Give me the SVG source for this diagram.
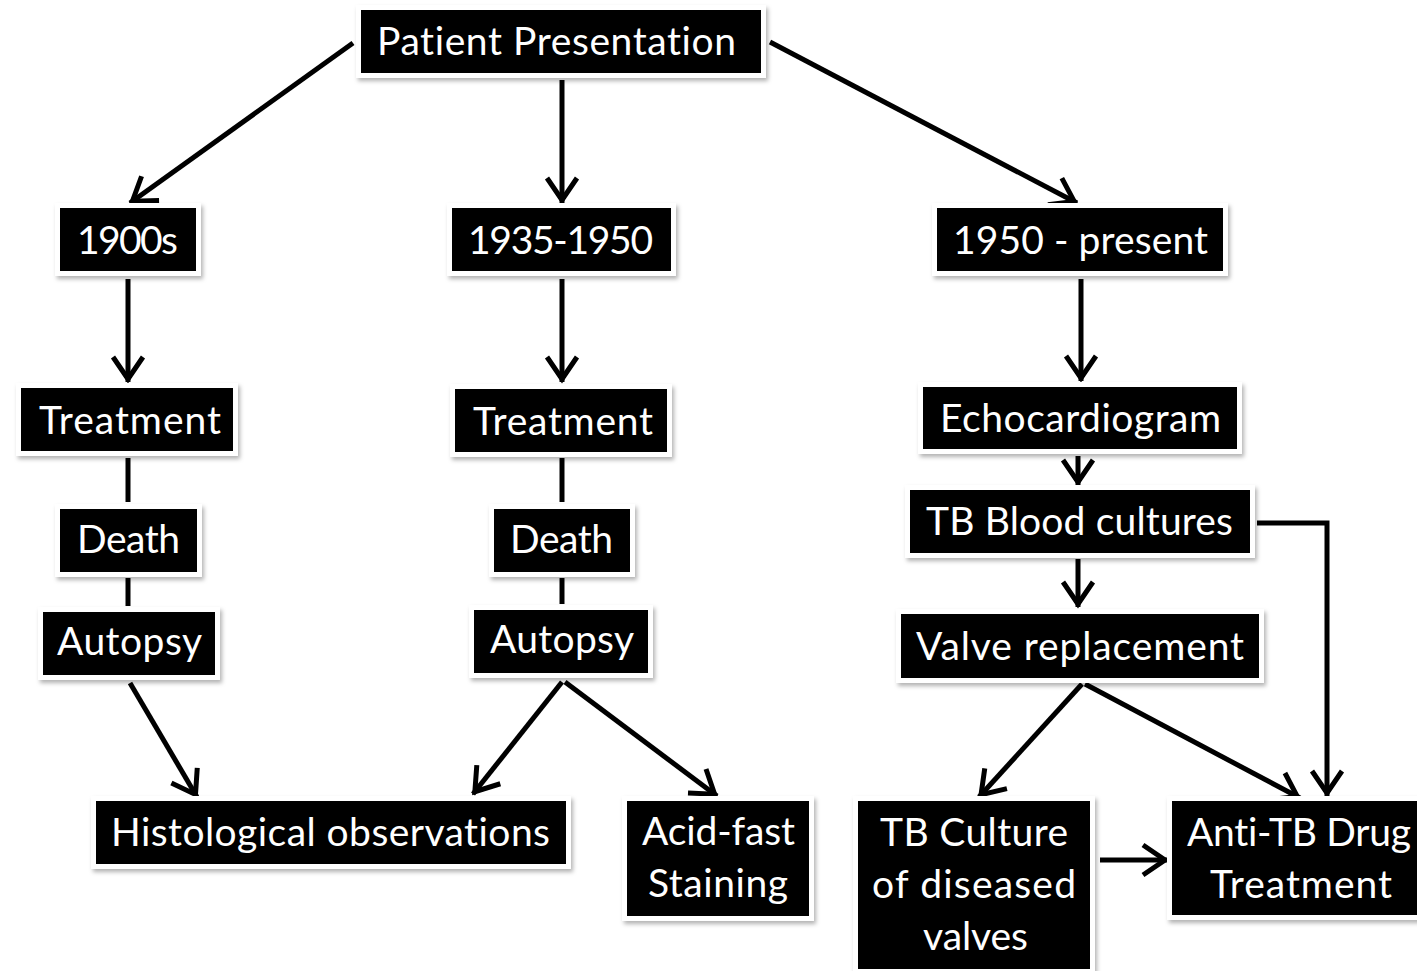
<svg xmlns="http://www.w3.org/2000/svg" width="1417" height="971" viewBox="0 0 1417 971">
<defs>
<filter id="sh" x="-10%" y="-20%" width="130%" height="160%">
<feDropShadow dx="2" dy="3" stdDeviation="2" flood-color="#000" flood-opacity="0.3"/>
</filter>
<marker id="ah" markerUnits="userSpaceOnUse" orient="auto" markerWidth="40" markerHeight="40" refX="0" refY="0" viewBox="-30 -20 40 40" overflow="visible">
<path d="M-25,-15 L-3,0 L-25,15" fill="none" stroke="#000" stroke-width="5" stroke-linejoin="miter"/>
</marker>
</defs>
<style>
.bg{fill:#fff;filter:url(#sh)}
.bx{fill:#000}
.t{fill:#fff;font-family:Lato,"Liberation Sans",sans-serif;font-size:39px;text-anchor:middle;font-variant-ligatures:none}
.c{fill:none;stroke:#000;stroke-width:5}
.a{marker-end:url(#ah)}
</style>
<rect width="1417" height="971" fill="#fff"/>
<g id="connectors">
<line class="c a" x1="353" y1="43" x2="130" y2="203"/>
<line class="c a" x1="562" y1="80" x2="562" y2="203"/>
<line class="c a" x1="770" y1="42" x2="1077" y2="203"/>
<line class="c a" x1="128" y1="279" x2="128" y2="382"/>
<line class="c a" x1="562" y1="279" x2="562" y2="382"/>
<line class="c a" x1="1081" y1="279" x2="1081" y2="381"/>
<line class="c" x1="128" y1="458" x2="128" y2="502"/>
<line class="c" x1="128" y1="578" x2="128" y2="606"/>
<line class="c" x1="562" y1="458" x2="562" y2="502"/>
<line class="c" x1="562" y1="578" x2="562" y2="604"/>
<line class="c a" x1="130" y1="683" x2="197" y2="797"/>
<line class="c a" x1="562" y1="682" x2="473" y2="794"/>
<line class="c a" x1="565" y1="682" x2="717" y2="796"/>
<line class="c a" x1="1078" y1="456" x2="1078" y2="485"/>
<line class="c a" x1="1078" y1="559" x2="1078" y2="607"/>
<polyline class="c a" points="1257,523 1327,523 1327,796"/>
<line class="c a" x1="1082" y1="684" x2="979" y2="797"/>
<line class="c a" x1="1085" y1="684" x2="1300" y2="798"/>
<line class="c a" x1="1100" y1="860" x2="1168" y2="860"/>
</g>
<g id="n-patient"><rect class="bg" x="356" y="5" width="410" height="73"/><rect class="bx" x="361" y="10" width="400" height="63"/><text class="t" x="556.5" y="55" textLength="359">Patient Presentation</text></g>
<g id="n-1900s"><rect class="bg" x="55" y="203" width="146" height="73"/><rect class="bx" x="60" y="208" width="136" height="63"/><text class="t" x="127.5" y="254" textLength="101">1900s</text></g>
<g id="n-1935"><rect class="bg" x="447" y="203" width="229" height="73"/><rect class="bx" x="452" y="208" width="219" height="63"/><text class="t" x="560.5" y="254" textLength="185">1935-1950</text></g>
<g id="n-1950"><rect class="bg" x="932" y="203" width="296" height="73"/><rect class="bx" x="937" y="208" width="286" height="63"/><text class="t" x="1080.5" y="254" textLength="255">1950 - present</text></g>
<g id="n-treat1"><rect class="bg" x="16" y="383" width="222" height="73"/><rect class="bx" x="21" y="388" width="212" height="63"/><text class="t" x="130" y="434" textLength="182">Treatment</text></g>
<g id="n-treat2"><rect class="bg" x="450" y="384" width="222" height="73"/><rect class="bx" x="455" y="389" width="212" height="63"/><text class="t" x="563" y="435" textLength="180">Treatment</text></g>
<g id="n-echo"><rect class="bg" x="918" y="382" width="324" height="72"/><rect class="bx" x="923" y="387" width="314" height="62"/><text class="t" x="1080.5" y="432" textLength="281">Echocardiogram</text></g>
<g id="n-death1"><rect class="bg" x="55" y="504" width="147" height="73"/><rect class="bx" x="60" y="509" width="137" height="63"/><text class="t" x="128.5" y="553" textLength="103">Death</text></g>
<g id="n-death2"><rect class="bg" x="489" y="504" width="146" height="73"/><rect class="bx" x="494" y="509" width="136" height="63"/><text class="t" x="561.5" y="553" textLength="103">Death</text></g>
<g id="n-blood"><rect class="bg" x="905" y="485" width="350" height="73"/><rect class="bx" x="910" y="490" width="340" height="63"/><text class="t" x="1079.5" y="535" textLength="307">TB Blood cultures</text></g>
<g id="n-autopsy1"><rect class="bg" x="38" y="607" width="182" height="73"/><rect class="bx" x="43" y="612" width="172" height="63"/><text class="t" x="129.5" y="655" textLength="145">Autopsy</text></g>
<g id="n-autopsy2"><rect class="bg" x="469" y="605" width="184" height="73"/><rect class="bx" x="474" y="610" width="174" height="63"/><text class="t" x="562" y="653" textLength="144">Autopsy</text></g>
<g id="n-valve"><rect class="bg" x="896" y="609" width="368" height="74"/><rect class="bx" x="901" y="614" width="358" height="64"/><text class="t" x="1080" y="660" textLength="328">Valve replacement</text></g>
<g id="n-histo"><rect class="bg" x="91" y="796" width="480" height="73"/><rect class="bx" x="96" y="801" width="470" height="63"/><text class="t" x="330.5" y="846" textLength="439">Histological observations</text></g>
<g id="n-acid"><rect class="bg" x="622" y="796" width="192" height="125"/><rect class="bx" x="627" y="801" width="182" height="115"/><text class="t" x="718.5" y="845" textLength="153">Acid-fast</text><text class="t" x="718" y="897" textLength="140">Staining</text></g>
<g id="n-culture"><rect class="bg" x="853" y="796" width="242" height="180"/><rect class="bx" x="858" y="801" width="232" height="168"/><text class="t" x="974" y="846" textLength="188">TB Culture</text><text class="t" x="974" y="898" textLength="204">of diseased</text><text class="t" x="975.5" y="950" textLength="105">valves</text></g>
<g id="n-antitb"><rect class="bg" x="1167" y="796" width="270" height="124"/><rect class="bx" x="1172" y="801" width="260" height="114"/><text class="t" x="1299" y="846" textLength="224">Anti-TB Drug</text><text class="t" x="1301" y="898" textLength="182">Treatment</text></g>
</svg>
